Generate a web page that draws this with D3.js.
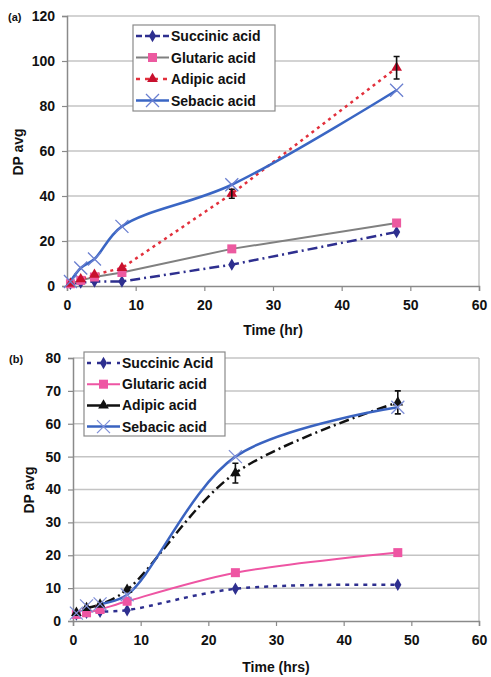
<!DOCTYPE html>
<html><head><meta charset="utf-8">
<script src="https://cdn.jsdelivr.net/npm/d3@7"></script>
<style>
body{margin:0;background:#fff;}
text{font-family:Arial,"Liberation Sans",sans-serif;font-weight:bold;}
</style></head>
<body><svg id="c" width="491" height="677"></svg>
<script>
// ---- data ----
const timesA = [0.5, 2, 4, 8, 24, 48];
const succinicA = [1, 1.5, 2, 2, 9.5, 24];
const glutaricA = [1, 2.5, 4, 6, 16.5, 28];
const adipicA = [1, 3, 5, 8, 41, 97];
const adipicErrA = [0, 0, 0, 0, 2, 5];
const sebacicA = [2, 8, 12, 26.5, 45, 87];

const timesB = [0.5, 2, 4, 8, 24, 48];
const succinicB = [2, 2.5, 2.8, 3.3, 9.8, 11];
const glutaricB = [2, 2.5, 3.5, 6, 14.7, 20.8];
const adipicB = [2.5, 4, 5, 9.5, 45, 66.5];
const adipicErrB = [0, 0, 0, 0, 3, 3.5];
const sebacicB = [2.4, 4.6, 5.2, 8, 50, 65];

const xTicks = [0, 10, 20, 30, 40, 50, 60];
const yTicksA = [0, 20, 40, 60, 80, 100, 120];
const yTicksB = [0, 10, 20, 30, 40, 50, 60, 70, 80];

const seriesA = [
  {name:"Succinic acid", vals:succinicA, color:"#2e2f8f", mcolor:"#2e2f8f", marker:"diamond", dash:"10,4,2,4", width:2.5, curve:d3.curveLinear},
  {name:"Glutaric acid", vals:glutaricA, color:"#808080", mcolor:"#ec5aa0", marker:"square", dash:null, width:2, curve:d3.curveLinear},
  {name:"Adipic acid", vals:adipicA, color:"#e2303c", mcolor:"#c8102e", marker:"triangle", dash:"3,4", width:2.5, curve:d3.curveLinear, err:adipicErrA},
  {name:"Sebacic acid", vals:sebacicA, color:"#3a66c4", mcolor:"#6a7fd0", marker:"x", dash:null, width:2.5, curve:d3.curveCatmullRom}
];
const seriesB = [
  {name:"Succinic Acid", vals:succinicB, color:"#2e2f8f", mcolor:"#2e2f8f", marker:"diamond", dash:"4,5", width:2.5, curve:d3.curveCatmullRom, start:1},
  {name:"Glutaric acid", vals:glutaricB, color:"#ee55a3", mcolor:"#ee55a3", marker:"square", dash:null, width:2, curve:d3.curveCatmullRom, start:1},
  {name:"Adipic acid", vals:adipicB, color:"#111111", mcolor:"#111111", marker:"triangle", dash:"10,4,2,4", width:2.5, curve:d3.curveCatmullRom, err:adipicErrB, start:1},
  {name:"Sebacic acid", vals:sebacicB, color:"#3a63c0", mcolor:"#8090d8", marker:"x", dash:null, width:2.5, curve:d3.curveCatmullRom, start:2}
];

const svg = d3.select("#c");

function drawMarker(g, type, x, y, color){
  if(type==="diamond"){
    g.append("path").attr("d", d3.symbol().type(d3.symbolDiamond).size(45)()).attr("transform",`translate(${x},${y})`).attr("fill",color);
  } else if(type==="square"){
    g.append("rect").attr("x",x-4.5).attr("y",y-4.5).attr("width",9).attr("height",9).attr("fill",color);
  } else if(type==="triangle"){
    g.append("path").attr("d", d3.symbol().type(d3.symbolTriangle).size(50)()).attr("transform",`translate(${x},${y})`).attr("fill",color);
  } else {
    const s=6.5;
    g.append("path").attr("d",`M${x-s},${y-s}L${x+s},${y+s}M${x-s},${y+s}L${x+s},${y-s}`).attr("stroke",color).attr("stroke-width",1.3).attr("fill","none");
  }
}

function panel(cfg){
  const g = svg.append("g");
  const x = d3.scaleLinear().domain([0,60]).range([cfg.x0, cfg.x1]);
  const y = d3.scaleLinear().domain([0,cfg.ymax]).range([cfg.y0, cfg.y1]);
  // gridlines
  g.append("g").selectAll("line").data(cfg.yTicks.filter(d=>d>0)).join("line")
    .attr("x1",cfg.x0).attr("x2",cfg.x1).attr("y1",d=>y(d)).attr("y2",d=>y(d))
    .attr("stroke","#c4c4c4").attr("stroke-width",1.5);
  // plot border right
  g.append("line").attr("x1",cfg.x1).attr("x2",cfg.x1).attr("y1",cfg.y1).attr("y2",cfg.y0).attr("stroke","#b8b8b8").attr("stroke-width",1.2);
  // axes
  const ax = g.append("g").attr("transform",`translate(0,${cfg.y0})`)
    .call(d3.axisBottom(x).tickValues(xTicks).tickSize(5).tickPadding(9));
  const ay = g.append("g").attr("transform",`translate(${cfg.x0},0)`)
    .call(d3.axisLeft(y).tickValues(cfg.yTicks).tickSize(5).tickPadding(7));
  [ax,ay].forEach(a=>{
    a.select(".domain").attr("stroke","#8a8a8a").attr("stroke-width",1.5);
    a.selectAll(".tick line").attr("stroke","#8a8a8a").attr("stroke-width",1.2);
    a.selectAll("text").attr("font-size",14).attr("font-weight","bold").attr("fill","#111")
      .attr("font-family","Arial, 'Liberation Sans', sans-serif");
  });
  // series
  cfg.series.forEach(s=>{
    const pts = cfg.times.map((t,i)=>[t,s.vals[i],i]).filter(p=>p[2]>=(s.start||0));
    g.append("path").datum(pts)
      .attr("d", d3.line().x(d=>x(d[0])).y(d=>y(d[1])).curve(s.curve))
      .attr("fill","none").attr("stroke",s.color).attr("stroke-width",s.width)
      .attr("stroke-dasharray",s.dash);
  });
  cfg.series.forEach(s=>{
    cfg.times.forEach((t,i)=>drawMarker(g,s.marker,x(t),y(s.vals[i]),s.mcolor));
    if(s.err){
      cfg.times.forEach((t,i)=>{
        const e=s.err[i]; if(!e) return;
        const xx=x(t), yt=y(s.vals[i]+e), yb=y(s.vals[i]-e);
        g.append("path").attr("d",`M${xx},${yt}L${xx},${yb}M${xx-3},${yt}L${xx+3},${yt}M${xx-3},${yb}L${xx+3},${yb}`)
          .attr("stroke","#111").attr("stroke-width",1.6).attr("fill","none");
      });
    }
  });
  // labels
  g.append("text").attr("x",(cfg.x0+cfg.x1)/2).attr("y",cfg.xlabY).attr("text-anchor","middle")
    .attr("font-size",14).attr("fill","#111").text(cfg.xlabel);
  g.append("text").attr("transform",`translate(${cfg.ylabX},${cfg.ylabY}) rotate(-90)`).attr("text-anchor","middle")
    .attr("font-size",14).attr("fill","#111").text("DP avg");
  g.append("text").attr("x",cfg.tagX).attr("y",cfg.tagY).attr("font-size",11)
    .attr("font-family","'Liberation Serif','DejaVu Serif',serif").attr("fill","#111").text(cfg.tag);
  // legend
  const L = cfg.legend;
  const lg = g.append("g");
  lg.append("rect").attr("x",L.x).attr("y",L.y).attr("width",L.w).attr("height",L.h)
    .attr("fill","#fff").attr("stroke","#8a8a8a").attr("stroke-width",1.2);
  cfg.series.forEach((s,i)=>{
    const yy = L.y + 11 + i*L.step;
    lg.append("line").attr("x1",L.x+3).attr("x2",L.x+36).attr("y1",yy).attr("y2",yy)
      .attr("stroke",s.color).attr("stroke-width",s.width)
      .attr("stroke-dasharray", s.dash ? L.dash[i] : null);
    drawMarker(lg,s.marker,L.x+19.5,yy,s.mcolor);
    lg.append("text").attr("x",L.x+38).attr("y",yy+5).attr("font-size",14).attr("fill","#111").text(s.name);
  });
}

panel({x0:67,x1:479,y0:286,y1:16,ymax:120,yTicks:yTicksA,times:timesA,series:seriesA,
  xlabel:"Time (hr)",xlabY:335,ylabX:23,ylabY:152,tag:"(a)",tagX:8,tagY:21,
  legend:{x:133,y:25,w:142,h:86,step:21.5,dash:["6,3",null,"4,5",null]}});
panel({x0:73,x1:479,y0:621,y1:358,ymax:80,yTicks:yTicksB,times:timesB,series:seriesB,
  xlabel:"Time (hrs)",xlabY:672,ylabX:34,ylabY:490,tag:"(b)",tagX:9,tagY:363,
  legend:{x:84,y:352,w:141,h:84,step:21.2,dash:["4,6",null,"14,6",null]}});
</script></body></html>
